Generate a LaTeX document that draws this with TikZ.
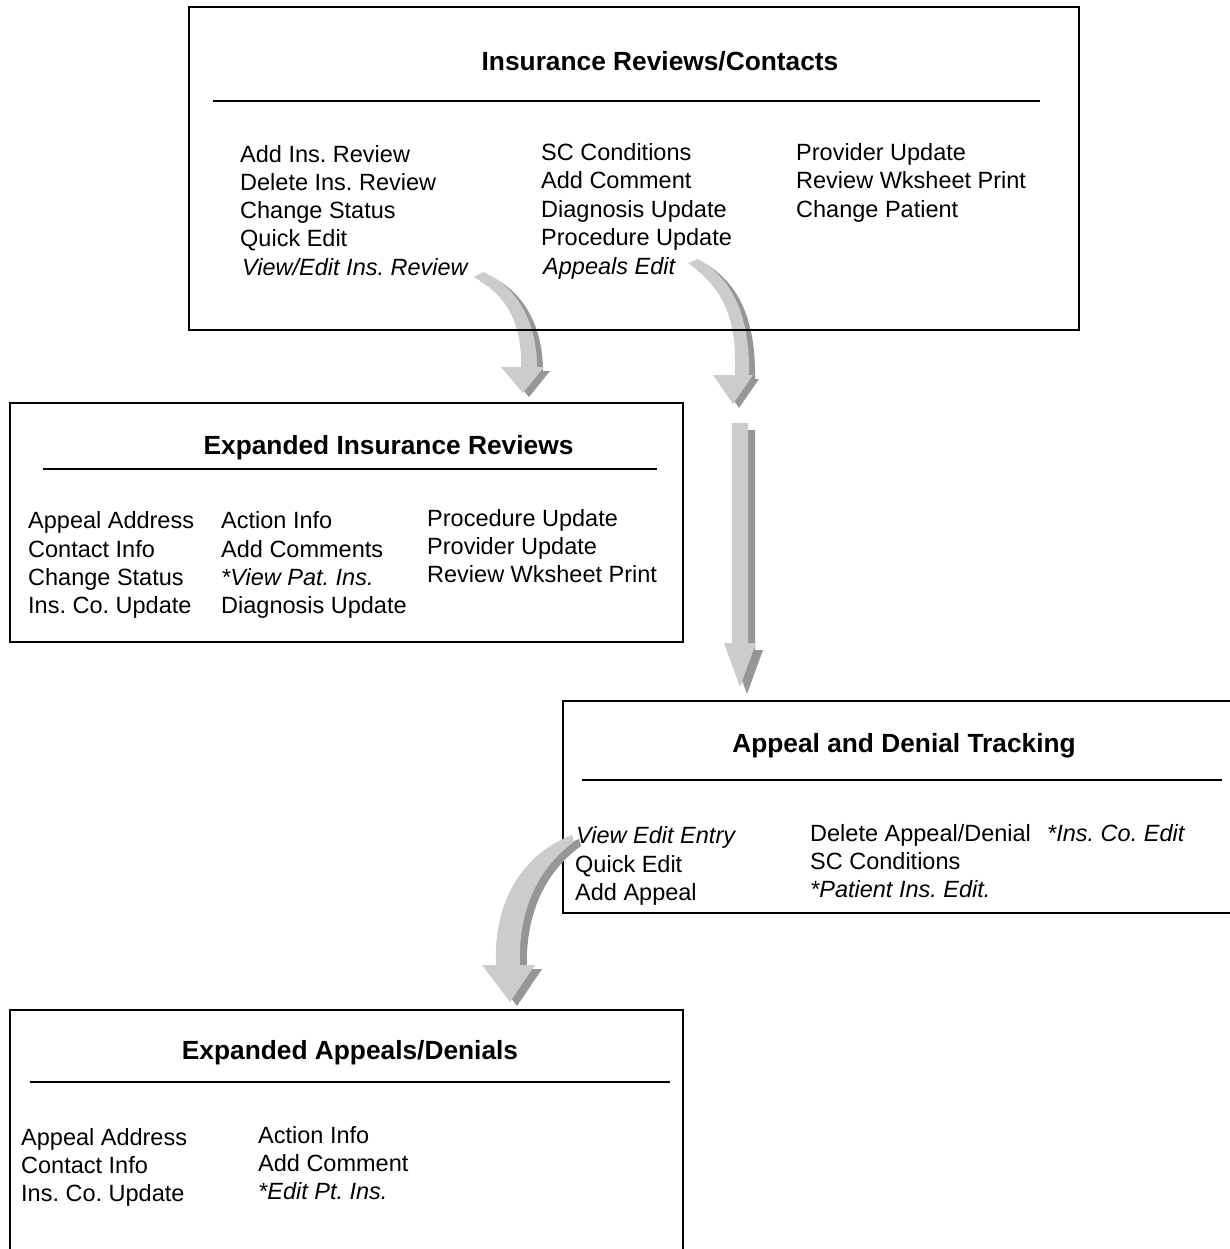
\documentclass[tikz,border=0pt]{standalone}
\usepackage{fontspec}
\setmainfont{Liberation Sans}
\frenchspacing
\definecolor{arrlight}{HTML}{CCCCCC}
\definecolor{arrdark}{HTML}{969696}
\begin{document}
\begin{tikzpicture}[x=1pt,y=-1pt,
  frame/.style={draw=black,line width=2.2pt},
  rulel/.style={draw=black,line width=2pt},
  ttl/.style={inner sep=0pt,anchor=base,font=\fontsize{26.3}{30}\selectfont\bfseries},
  itm/.style={inner sep=0pt,anchor=base west,font=\fontsize{23.5}{28}\selectfont},
  iti/.style={itm,font=\fontsize{23.5}{28}\selectfont\itshape},
  light/.style={fill=arrlight,draw=none},
  dark/.style={fill=arrdark,draw=none}]
\useasboundingbox (0,0) rectangle (1230,1249);
\fill[white] (0,0) rectangle (1230,1249);
\clip (0,0) rectangle (1230,1249);

% ---------- Arrows from box 1 (drawn under its frame)
% arrow 1: View/Edit Ins. Review -> Expanded Insurance Reviews
\begin{scope}[shift={(6,4)}]
\fill[dark] (474,277) .. controls (505,295) and (522,320) .. (521,367) -- (501,367) -- (523,393) -- (544,367) -- (537,367) .. controls (537,320) and (515,285) .. (483,272) -- cycle;
\end{scope}
\fill[light] (474,277) .. controls (505,295) and (522,320) .. (521,367) -- (501,367) -- (523,393) -- (544,367) -- (537,367) .. controls (537,320) and (515,285) .. (483,272) -- cycle;

% arrow 2: Appeals Edit -> down
\begin{scope}[shift={(6,4)}]
\fill[dark] (688,263) .. controls (725,290) and (737,320) .. (735,375) -- (713,375) -- (733,404) -- (753,375) -- (749,375) .. controls (750,320) and (735,280) .. (698,259) -- cycle;
\end{scope}
\fill[light] (688,263) .. controls (725,290) and (737,320) .. (735,375) -- (713,375) -- (733,404) -- (753,375) -- (749,375) .. controls (750,320) and (735,280) .. (698,259) -- cycle;

% arrow 3: straight down to Appeal and Denial Tracking
\begin{scope}[shift={(7,7)}]
\fill[dark] (732,423) -- (748,423) -- (748,643) -- (756,643) -- (740,687) -- (724,643) -- (732,643) -- cycle;
\end{scope}
\fill[light] (732,423) -- (748,423) -- (748,643) -- (756,643) -- (740,687) -- (724,643) -- (732,643) -- cycle;

% ---------- Box 1
\draw[frame] (189,7) rectangle (1079,330);
\node[ttl] (t1) at (660,71) {Insurance Reviews/Contacts};
\draw[rulel] (213,101.5) -- (1040,101.5);
\node[itm] (a1) at (240,163) {Add Ins. Review};
\node[itm] (a2) at (240,191) {Delete Ins. Review};
\node[itm] (a3) at (240,219) {Change Status};
\node[itm] (a4) at (240,247) {Quick Edit};
\node[iti] (a5) at (242,275) {View/Edit Ins. Review};
\node[itm] (b1) at (541,161) {SC Conditions};
\node[itm] (b2) at (541,189) {Add Comment};
\node[itm] (b3) at (541,218) {Diagnosis Update};
\node[itm] (b4) at (541,246) {Procedure Update};
\node[iti] (b5) at (543,274) {Appeals Edit};
\node[itm] (c1) at (796,161) {Provider Update};
\node[itm] (c2) at (796,189) {Review Wksheet Print};
\node[itm] (c3) at (796,218) {Change Patient};

% ---------- Box 2
\draw[frame] (10,403) rectangle (683,642);
\node[ttl] (t2) at (388.5,454) {Expanded Insurance Reviews};
\draw[rulel] (43,469) -- (657,469);
\node[itm] (d1) at (28,528) {Appeal Address};
\node[itm] (d2) at (28,557) {Contact Info};
\node[itm] (d3) at (28,585) {Change Status};
\node[itm] (d4) at (28,613) {Ins. Co. Update};
\node[itm] (e1) at (221,528) {Action Info};
\node[itm] (e2) at (221,557) {Add Comments};
\node[iti] (e3) at (221,585) {*View Pat. Ins.};
\node[itm] (e4) at (221,613) {Diagnosis Update};
\node[itm] (f1) at (427,526) {Procedure Update};
\node[itm] (f2) at (427,554) {Provider Update};
\node[itm] (f3) at (427,582) {Review Wksheet Print};

% ---------- Box 3
\draw[frame] (563,701) rectangle (1250,913);
\node[ttl] (t3) at (904,752) {Appeal and Denial Tracking};
\draw[rulel] (582,780) -- (1222,780);
\node[iti] (g1) at (576,843) {View Edit Entry};
\node[itm] (g2) at (575,872) {Quick Edit};
\node[itm] (g3) at (575,900) {Add Appeal};
\node[itm] (h1) at (810,841) {Delete Appeal/Denial};
\node[itm] (h2) at (810,869) {SC Conditions};
\node[iti] (h3) at (810,897) {*Patient Ins. Edit.};
\node[iti] (k1) at (1047,841) {*Ins. Co. Edit};

% ---------- Box 4
\draw[frame] (10,1270) -- (10,1010) -- (683,1010) -- (683,1270);
\node[ttl] (t4) at (350,1059) {Expanded Appeals/Denials};
\draw[rulel] (30,1082) -- (670,1082);
\node[itm] (m1) at (21,1145) {Appeal Address};
\node[itm] (m2) at (21,1173) {Contact Info};
\node[itm] (m3) at (21,1201) {Ins. Co. Update};
\node[itm] (n1) at (258,1143) {Action Info};
\node[itm] (n2) at (258,1171) {Add Comment};
\node[iti] (n3) at (258,1199) {*Edit Pt. Ins.};

% arrow 4: View Edit Entry -> Expanded Appeals/Denials (over box 3 frame)
\begin{scope}[shift={(7,4)}]
\fill[dark] (572,835) .. controls (520,855) and (493,905) .. (496,965) -- (482,965) -- (510,1002) -- (535,965) -- (520,965) .. controls (518,915) and (535,870) .. (574,842) -- cycle;
\end{scope}
\fill[light] (572,835) .. controls (520,855) and (493,905) .. (496,965) -- (482,965) -- (510,1002) -- (535,965) -- (520,965) .. controls (518,915) and (535,870) .. (574,842) -- cycle;
\end{tikzpicture}
\end{document}
